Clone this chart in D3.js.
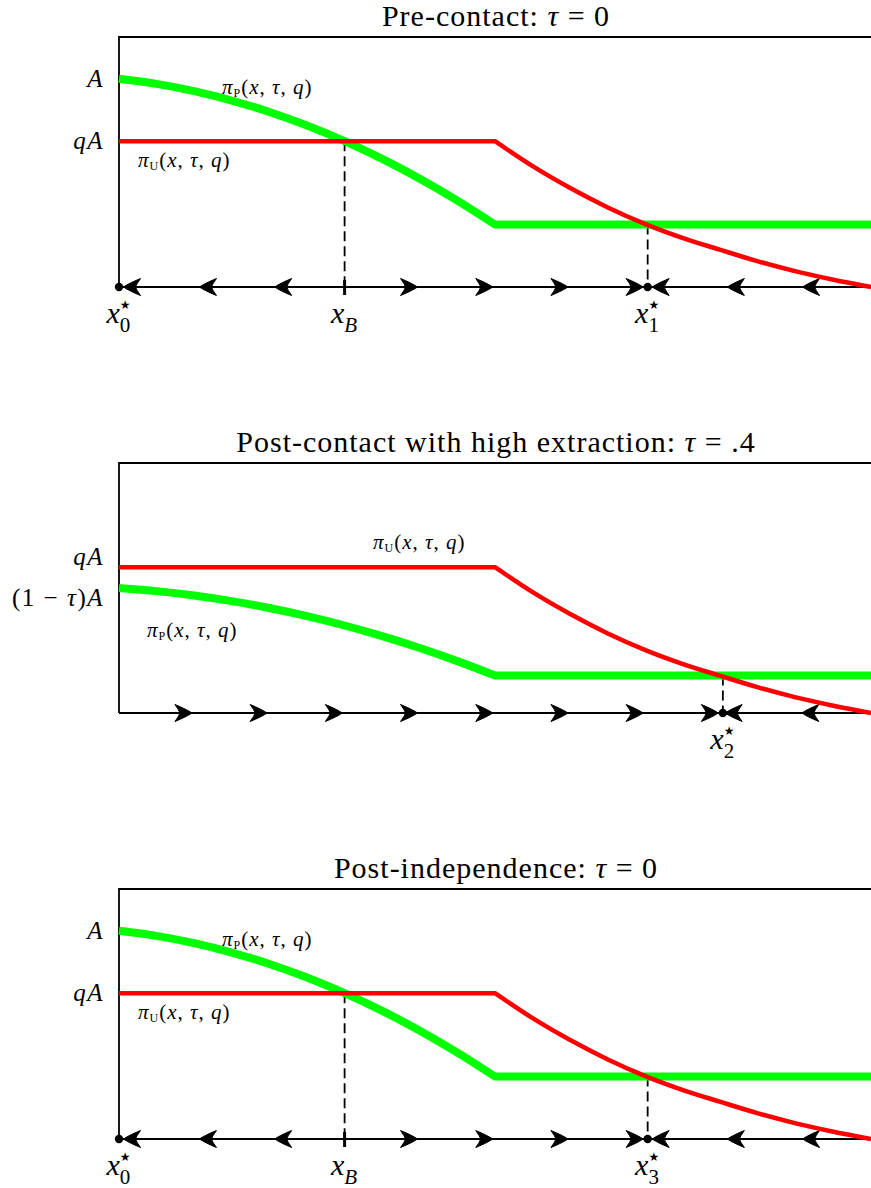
<!DOCTYPE html>
<html>
<head>
<meta charset="utf-8">
<script src="https://cdn.jsdelivr.net/npm/d3@7"></script>
<style>
  body { margin: 0; background: #fff; }
  svg { display: block; }
  text { font-family: "Liberation Serif", "DejaVu Serif", serif; fill: #000; }
</style>
</head>
<body>
<script>
// curve samples: x in [0,1], payoff in units of A
var greenX    = [0, 0.05, 0.1, 0.15, 0.2, 0.25, 0.3, 0.35, 0.4, 0.45, 0.5, 1.0];
var greenPre  = [1.00, 0.975, 0.94, 0.895, 0.84, 0.775, 0.70, 0.615, 0.52, 0.415, 0.30, 0.30];
var greenHigh = [0.60, 0.585, 0.564, 0.537, 0.504, 0.465, 0.42, 0.369, 0.312, 0.249, 0.18, 0.18];
var redX      = [0, 0.5, 0.55, 0.6, 0.65, 0.7, 0.75, 0.8, 0.85, 0.9, 0.95, 1.0];
var redVals   = [0.70, 0.70, 0.58, 0.475, 0.382, 0.302, 0.235, 0.178, 0.123, 0.075, 0.035, 0.0];

var titles = ["Pre-contact: ", "Post-contact with high extraction: ", "Post-independence: "];
var tauText = ["0", ".4", "0"];

var yTickVals   = [[1.0, 0.7], [0.7, 0.6], [1.0, 0.7]];
var yTickLabels = [["A", "qA"], ["qA", "(1 − τ)A"], ["A", "qA"]];

// arrow tips on the x axis, +1 points right, -1 points left
var arrowTips = [
  [0.006, 0.107, 0.207, 0.397, 0.497, 0.597, 0.697, 0.709, 0.809, 0.909],
  [0.097, 0.197, 0.297, 0.397, 0.497, 0.597, 0.697, 0.797, 0.806, 0.908],
  [0.006, 0.107, 0.207, 0.397, 0.497, 0.597, 0.697, 0.709, 0.809, 0.909]
];
var arrowDirs = [
  [-1, -1, -1, 1, 1, 1, 1, -1, -1, -1],
  [1, 1, 1, 1, 1, 1, 1, 1, -1, -1],
  [-1, -1, -1, 1, 1, 1, 1, -1, -1, -1]
];

// steady states (dots) and their names
var eqX   = [[0, 0.703], [0.803], [0, 0.703]];
var eqSub = [["0", "1"], ["2"], ["0", "3"]];
// threshold x_B
var xBVal = [0.30, null, 0.30];
// dashed drop lines
var dashX   = [[0.30, 0.703], [0.803], [0.30, 0.703]];
var dashTop = [[0.70, 0.30], [0.18], [0.70, 0.30]];

var panels = [
  { bottom: 287, green: greenPre,  tickDy: [8, 8],   labP: [222, 94],  labU: [138, 167] },
  { bottom: 713, green: greenHigh, tickDy: [-2, 18], labP: [147, 637], labU: [373, 549] },
  { bottom: 1139, green: greenPre, tickDy: [8, 8],   labP: [222, 946], labU: [138, 1019] }
];

var W = 871, H = 1188, plotH = 250;
var svg = d3.select("body").append("svg").attr("width", W).attr("height", H);
var x = d3.scaleLinear().domain([0, 1]).range([119, 871]);

function piLabel(g, name, px, py) {
  var t = g.append("text").attr("x", px).attr("y", py)
    .style("font-size", "21px").style("letter-spacing", "1px");
  t.append("tspan").style("font-style", "italic").text("π");
  t.append("tspan").attr("dy", 3).style("font-size", "12px").text(name);
  t.append("tspan").attr("dy", -3).text("(");
  t.append("tspan").style("font-style", "italic").text("x");
  t.append("tspan").text(", ");
  t.append("tspan").style("font-style", "italic").text("τ");
  t.append("tspan").text(", ");
  t.append("tspan").style("font-style", "italic").text("q");
  t.append("tspan").text(")");
}

// x with a subscript and, for steady states, a star on top (one text element)
function varLabel(g, cx, py, sub, star) {
  var t = g.append("text").attr("y", py).style("font-size", "30px");
  t.append("tspan").style("font-style", "italic").text("x");
  if (star) {
    var st = t.append("tspan").attr("dx", 0).attr("dy", -14)
      .style("font-size", "12px").style("font-family", "DejaVu Sans").text("★");
    var sw = st.node().getComputedTextLength();
    t.append("tspan").attr("dx", -sw).attr("dy", 23)
      .style("font-size", "21px").text(sub);
  } else {
    t.append("tspan").attr("dx", 0).attr("dy", 9)
      .style("font-size", "21px").style("font-style", "italic").text(sub);
  }
  var bb = t.node().getBBox();
  t.attr("x", cx - bb.width / 2);
}

function tickLabel(g, s, px, py) {
  var t = g.append("text").attr("x", px).attr("y", py)
    .attr("text-anchor", "end").style("font-size", "25px").style("letter-spacing", "1.5px");
  s.split("").forEach(function(ch) {
    var it = /[A-Za-zτ]/.test(ch);
    t.append("tspan").style("font-style", it ? "italic" : "normal").text(ch);
  });
}

var arrowPath = "M0,0 Q-5,-3.5 -17,-8.5 Q-13,-3 -12,0 Q-13,3 -17,8.5 Q-5,3.5 0,0 Z";

panels.forEach(function(p, i) {
  var y = d3.scaleLinear().domain([0, 1.2]).range([p.bottom, p.bottom - plotH]);
  var g = svg.append("g");

  // title
  var tt = g.append("text").attr("x", 496).attr("y", p.bottom - plotH - 11)
    .attr("text-anchor", "middle").style("font-size", "30px").style("letter-spacing", "1px");
  tt.append("tspan").text(titles[i]);
  tt.append("tspan").style("font-style", "italic").text("τ");
  tt.append("tspan").text(" = " + tauText[i]);

  // frame: left and top
  g.append("path")
    .attr("d", "M" + x(0) + "," + y(0) + "V" + y(1.2) + "H" + (x(1) + 5))
    .attr("fill", "none").attr("stroke", "#000").attr("stroke-width", 1.8);

  // dashed drop lines
  dashX[i].forEach(function(dx, k) {
    g.append("line")
      .attr("x1", x(dx)).attr("x2", x(dx))
      .attr("y1", y(dashTop[i][k])).attr("y2", y(0))
      .attr("stroke", "#000").attr("stroke-width", 1.8)
      .attr("stroke-dasharray", "10,5");
  });

  // x axis
  g.append("line").attr("x1", x(0)).attr("x2", x(1) + 5)
    .attr("y1", y(0)).attr("y2", y(0))
    .attr("stroke", "#000").attr("stroke-width", 1.8);

  // flow arrows
  g.selectAll("path.arr").data(arrowTips[i]).enter().append("path")
    .attr("class", "arr")
    .attr("d", arrowPath)
    .attr("stroke", "#000").attr("stroke-width", 1).attr("stroke-linejoin", "round")
    .attr("transform", function(d, k) {
      return "translate(" + x(d) + "," + y(0) + ") scale(" + arrowDirs[i][k] + ",1)";
    });

  // threshold tick
  if (xBVal[i] !== null) {
    g.append("line").attr("x1", x(xBVal[i])).attr("x2", x(xBVal[i]))
      .attr("y1", y(0) - 7).attr("y2", y(0) + 8)
      .attr("stroke", "#000").attr("stroke-width", 3);
    varLabel(g, x(xBVal[i]), y(0) + 36, "B", false);
  }

  // steady states
  eqX[i].forEach(function(ex, k) {
    g.append("circle").attr("cx", x(ex)).attr("cy", y(0)).attr("r", 4.2).attr("fill", "#000");
    varLabel(g, x(ex), y(0) + 36, eqSub[i][k], true);
  });

  // curves
  var lineCurve = d3.line().x(function(d) { return x(d[0]); }).y(function(d) { return y(d[1]); })
    .curve(d3.curveMonotoneX);
  var gPts = greenX.map(function(v, k) { return [v, p.green[k]]; });
  var last = gPts.length - 1;
  var gD = lineCurve(gPts.slice(0, last)) + "L" + x(gPts[last][0]) + "," + y(gPts[last][1]);
  g.append("path").attr("d", gD).attr("fill", "none")
    .attr("stroke", "#00ff00").attr("stroke-width", 8);

  var rPts = redX.map(function(v, k) { return [v, redVals[k]]; });
  var rD = "M" + x(rPts[0][0]) + "," + y(rPts[0][1]) + lineCurve(rPts.slice(1)).replace(/^M/, "L");
  g.append("path").attr("d", rD).attr("fill", "none")
    .attr("stroke", "#ff0000").attr("stroke-width", 4.5);

  // y labels
  yTickVals[i].forEach(function(v, k) {
    tickLabel(g, yTickLabels[i][k], 104, y(v) + p.tickDy[k]);
  });

  // curve labels
  piLabel(g, "P", p.labP[0], p.labP[1]);
  piLabel(g, "U", p.labU[0], p.labU[1]);
});
</script>
</body>
</html>
